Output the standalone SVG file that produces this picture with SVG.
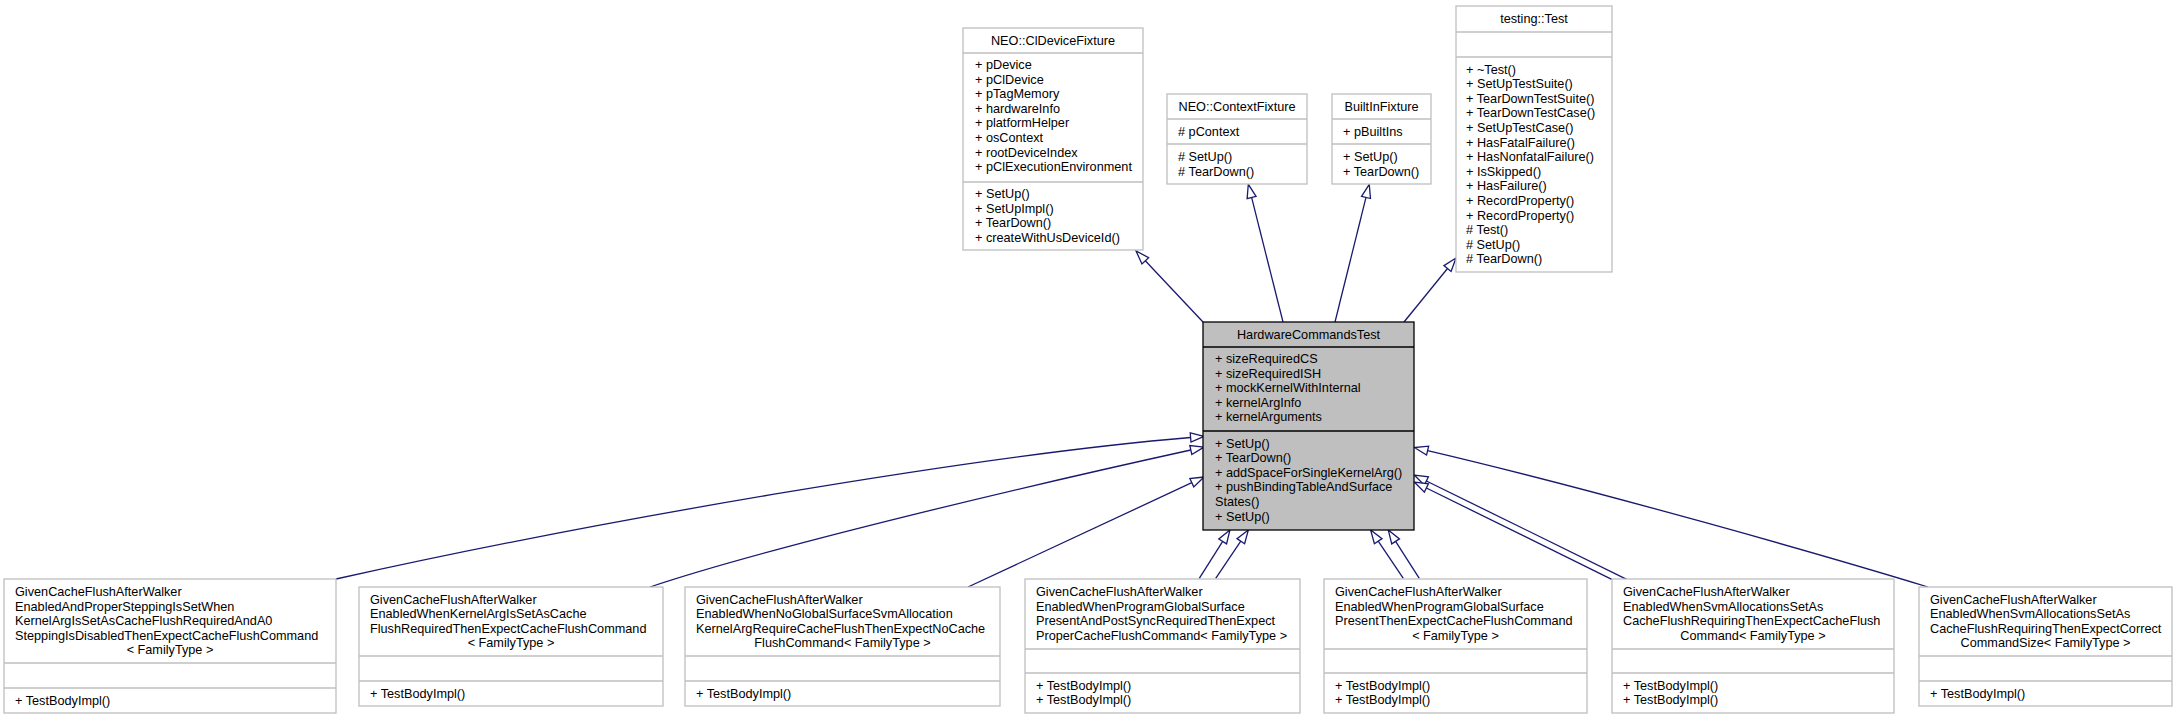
<svg xmlns="http://www.w3.org/2000/svg" width="2179" height="720" viewBox="0 0 2179 720">
<style>
.bg{fill:#ffffff}
.box{fill:#ffffff;stroke:#bfbfbf;stroke-width:1.3}
.sep{stroke:#bfbfbf;stroke-width:1.3}
.hct{fill:#bfbfbf;stroke:#000000;stroke-width:1.3}
.hsep{stroke:#000000;stroke-width:1.3}
text{font-family:"Liberation Sans",Arial,Helvetica,sans-serif;font-size:12.7px;fill:#000000}
.c{text-anchor:middle}
.edge{fill:none;stroke:#191970;stroke-width:1.3;marker-end:url(#arr)}
</style>
<defs>
<marker id="arr" markerUnits="userSpaceOnUse" markerWidth="16" markerHeight="12" refX="0" refY="0" orient="auto" style="overflow:visible">
<polygon points="13.5,0 0,-4.6 0,4.6" fill="#ffffff" stroke="#191970" stroke-width="1.3"/>
</marker>
</defs>
<rect class="bg" x="0" y="0" width="2179" height="720"/>

<g id="connectors">
<path class="edge" d="M1203,322 L1145.3,260.8"/>
<path class="edge" d="M1283,322 L1251.6,197.4"/>
<path class="edge" d="M1335,322 L1366,197.4"/>
<path class="edge" d="M1404,322 L1447.5,268.5"/>
<path class="edge" d="M336,579 C600,520 980,455 1190.6,437.5"/>
<path class="edge" d="M650,587 C760,550 1000,492 1190.8,450"/>
<path class="edge" d="M968,587 L1191.8,482.7"/>
<path class="edge" d="M1199.3,578.3 L1222.7,541.4"/>
<path class="edge" d="M1215.7,578.3 L1240.8,541.2"/>
<path class="edge" d="M1403.3,578.3 L1378.2,541.2"/>
<path class="edge" d="M1419.3,578.3 L1395.6,541.4"/>
<path class="edge" d="M1626.7,579.3 L1426.4,481"/>
<path class="edge" d="M1611.7,579.3 L1426.4,488"/>
<path class="edge" d="M1928,587 C1830,557 1600,491 1427.6,450.6"/>
</g>

<g id="ClDeviceFixture">
<rect class="box" x="963" y="28" width="180" height="222"/>
<line class="sep" x1="963" y1="53" x2="1143" y2="53"/>
<line class="sep" x1="963" y1="182" x2="1143" y2="182"/>
<text class="c" x="1053" y="45">NEO::ClDeviceFixture</text>
<text x="975" y="69">+ pDevice</text>
<text x="975" y="83.6">+ pClDevice</text>
<text x="975" y="98.2">+ pTagMemory</text>
<text x="975" y="112.8">+ hardwareInfo</text>
<text x="975" y="127.4">+ platformHelper</text>
<text x="975" y="142">+ osContext</text>
<text x="975" y="156.6">+ rootDeviceIndex</text>
<text x="975" y="171.2">+ pClExecutionEnvironment</text>
<text x="975" y="198">+ SetUp()</text>
<text x="975" y="212.6">+ SetUpImpl()</text>
<text x="975" y="227.2">+ TearDown()</text>
<text x="975" y="241.8">+ createWithUsDeviceId()</text>
</g>

<g id="ContextFixture">
<rect class="box" x="1167" y="94" width="140" height="90"/>
<line class="sep" x1="1167" y1="119" x2="1307" y2="119"/>
<line class="sep" x1="1167" y1="144" x2="1307" y2="144"/>
<text class="c" x="1237" y="111">NEO::ContextFixture</text>
<text x="1178" y="136">#&#160;pContext</text>
<text x="1178" y="161">#&#160;SetUp()</text>
<text x="1178" y="175.6">#&#160;TearDown()</text>
</g>

<g id="BuiltInFixture">
<rect class="box" x="1332" y="94" width="99" height="90"/>
<line class="sep" x1="1332" y1="119" x2="1431" y2="119"/>
<line class="sep" x1="1332" y1="144" x2="1431" y2="144"/>
<text class="c" x="1381.5" y="111">BuiltInFixture</text>
<text x="1343" y="136">+ pBuiltIns</text>
<text x="1343" y="161">+ SetUp()</text>
<text x="1343" y="175.6">+ TearDown()</text>
</g>

<g id="testingTest">
<rect class="box" x="1456" y="6" width="156" height="266"/>
<line class="sep" x1="1456" y1="32" x2="1612" y2="32"/>
<line class="sep" x1="1456" y1="57" x2="1612" y2="57"/>
<text class="c" x="1534" y="23">testing::Test</text>
<text x="1466" y="73.5">+ ~Test()</text>
<text x="1466" y="88.1">+ SetUpTestSuite()</text>
<text x="1466" y="102.7">+ TearDownTestSuite()</text>
<text x="1466" y="117.3">+ TearDownTestCase()</text>
<text x="1466" y="131.9">+ SetUpTestCase()</text>
<text x="1466" y="146.5">+ HasFatalFailure()</text>
<text x="1466" y="161.1">+ HasNonfatalFailure()</text>
<text x="1466" y="175.7">+ IsSkipped()</text>
<text x="1466" y="190.3">+ HasFailure()</text>
<text x="1466" y="204.9">+ RecordProperty()</text>
<text x="1466" y="219.5">+ RecordProperty()</text>
<text x="1466" y="234.1">#&#160;Test()</text>
<text x="1466" y="248.7">#&#160;SetUp()</text>
<text x="1466" y="263.3">#&#160;TearDown()</text>
</g>

<g id="HardwareCommandsTest">
<rect class="hct" x="1203" y="322" width="211" height="208"/>
<line class="hsep" x1="1203" y1="347" x2="1414" y2="347"/>
<line class="hsep" x1="1203" y1="431" x2="1414" y2="431"/>
<text class="c" x="1308.5" y="339">HardwareCommandsTest</text>
<text x="1215" y="363">+ sizeRequiredCS</text>
<text x="1215" y="377.6">+ sizeRequiredISH</text>
<text x="1215" y="392.2">+ mockKernelWithInternal</text>
<text x="1215" y="406.8">+ kernelArgInfo</text>
<text x="1215" y="421.4">+ kernelArguments</text>
<text x="1215" y="447.5">+ SetUp()</text>
<text x="1215" y="462.1">+ TearDown()</text>
<text x="1215" y="476.7">+ addSpaceForSingleKernelArg()</text>
<text x="1215" y="491.3">+ pushBindingTableAndSurface</text>
<text x="1215" y="505.9">States()</text>
<text x="1215" y="520.5">+ SetUp()</text>
</g>

<g id="node1">
<rect class="box" x="4" y="579" width="332" height="134"/>
<line class="sep" x1="4" y1="663" x2="336" y2="663"/>
<line class="sep" x1="4" y1="688" x2="336" y2="688"/>
<text x="15" y="596">GivenCacheFlushAfterWalker</text>
<text x="15" y="610.6">EnabledAndProperSteppingIsSetWhen</text>
<text x="15" y="625.2">KernelArgIsSetAsCacheFlushRequiredAndA0</text>
<text x="15" y="639.8">SteppingIsDisabledThenExpectCacheFlushCommand</text>
<text class="c" x="170" y="654.4">&lt; FamilyType &gt;</text>
<text x="15" y="704.5">+ TestBodyImpl()</text>
</g>

<g id="node2">
<rect class="box" x="359" y="587" width="304" height="119"/>
<line class="sep" x1="359" y1="656" x2="663" y2="656"/>
<line class="sep" x1="359" y1="681" x2="663" y2="681"/>
<text x="370" y="603.5">GivenCacheFlushAfterWalker</text>
<text x="370" y="618.1">EnabledWhenKernelArgIsSetAsCache</text>
<text x="370" y="632.7">FlushRequiredThenExpectCacheFlushCommand</text>
<text class="c" x="511" y="647.3">&lt; FamilyType &gt;</text>
<text x="370" y="697.5">+ TestBodyImpl()</text>
</g>

<g id="node3">
<rect class="box" x="685" y="587" width="315" height="119"/>
<line class="sep" x1="685" y1="656" x2="1000" y2="656"/>
<line class="sep" x1="685" y1="681" x2="1000" y2="681"/>
<text x="696" y="603.5">GivenCacheFlushAfterWalker</text>
<text x="696" y="618.1">EnabledWhenNoGlobalSurfaceSvmAllocation</text>
<text x="696" y="632.7">KernelArgRequireCacheFlushThenExpectNoCache</text>
<text class="c" x="842.5" y="647.3">FlushCommand&lt; FamilyType &gt;</text>
<text x="696" y="697.5">+ TestBodyImpl()</text>
</g>

<g id="node4">
<rect class="box" x="1025" y="579" width="275" height="134"/>
<line class="sep" x1="1025" y1="649" x2="1300" y2="649"/>
<line class="sep" x1="1025" y1="673" x2="1300" y2="673"/>
<text x="1036" y="596">GivenCacheFlushAfterWalker</text>
<text x="1036" y="610.6">EnabledWhenProgramGlobalSurface</text>
<text x="1036" y="625.2">PresentAndPostSyncRequiredThenExpect</text>
<text x="1036" y="639.8">ProperCacheFlushCommand&lt; FamilyType &gt;</text>
<text x="1036" y="689.5">+ TestBodyImpl()</text>
<text x="1036" y="704.1">+ TestBodyImpl()</text>
</g>

<g id="node5">
<rect class="box" x="1324" y="579" width="263" height="134"/>
<line class="sep" x1="1324" y1="649" x2="1587" y2="649"/>
<line class="sep" x1="1324" y1="673" x2="1587" y2="673"/>
<text x="1335" y="596">GivenCacheFlushAfterWalker</text>
<text x="1335" y="610.6">EnabledWhenProgramGlobalSurface</text>
<text x="1335" y="625.2">PresentThenExpectCacheFlushCommand</text>
<text class="c" x="1455.5" y="639.8">&lt; FamilyType &gt;</text>
<text x="1335" y="689.5">+ TestBodyImpl()</text>
<text x="1335" y="704.1">+ TestBodyImpl()</text>
</g>

<g id="node6">
<rect class="box" x="1612" y="579" width="282" height="134"/>
<line class="sep" x1="1612" y1="649" x2="1894" y2="649"/>
<line class="sep" x1="1612" y1="673" x2="1894" y2="673"/>
<text x="1623" y="596">GivenCacheFlushAfterWalker</text>
<text x="1623" y="610.6">EnabledWhenSvmAllocationsSetAs</text>
<text x="1623" y="625.2">CacheFlushRequiringThenExpectCacheFlush</text>
<text class="c" x="1753" y="639.8">Command&lt; FamilyType &gt;</text>
<text x="1623" y="689.5">+ TestBodyImpl()</text>
<text x="1623" y="704.1">+ TestBodyImpl()</text>
</g>

<g id="node7">
<rect class="box" x="1919" y="587" width="253" height="119"/>
<line class="sep" x1="1919" y1="656" x2="2172" y2="656"/>
<line class="sep" x1="1919" y1="681" x2="2172" y2="681"/>
<text x="1930" y="603.5">GivenCacheFlushAfterWalker</text>
<text x="1930" y="618.1">EnabledWhenSvmAllocationsSetAs</text>
<text x="1930" y="632.7">CacheFlushRequiringThenExpectCorrect</text>
<text class="c" x="2045.5" y="647.3">CommandSize&lt; FamilyType &gt;</text>
<text x="1930" y="697.5">+ TestBodyImpl()</text>
</g>
</svg>
